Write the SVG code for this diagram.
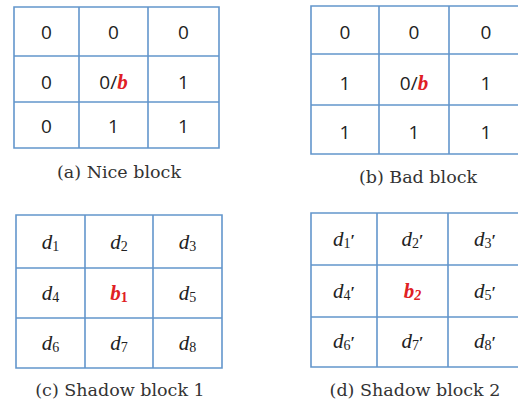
<svg xmlns="http://www.w3.org/2000/svg" width="518" height="405" viewBox="0 0 518 405">
  <style>
    .grid { fill: none; stroke: #6396cc; stroke-width: 1.6; }
    .num { font-family: "Open Sans", "Liberation Sans", sans-serif; font-size: 19px; fill: #222; text-anchor: middle; }
    .var { font-family: "Liberation Serif", "DejaVu Serif", serif; font-style: italic; font-size: 21px; fill: #222; text-anchor: middle; }
    .sub { font-style: normal; font-size: 14px; }
    .pr { font-style: normal; font-weight: bold; font-size: 16px; }
    .red { fill: #e02024; font-weight: bold; font-style: italic; font-family: "Liberation Serif", "DejaVu Serif", serif; font-size: 21px; }
    .cap { font-family: "DejaVu Serif", "Liberation Serif", serif; font-size: 17.5px; fill: #333; text-anchor: middle; }
  </style>
  <rect width="518" height="405" fill="#fff"/>

  <!-- (a) Nice block -->
  <g id="nice-block">
    <path class="grid" d="M14 7H219V148H14Z M79 7V148 M148 7V148 M14 56H219 M14 102H219"/>
    <text class="num" x="46.5" y="39">0</text>
    <text class="num" x="113.5" y="39">0</text>
    <text class="num" x="183.5" y="39">0</text>
    <text class="num" x="46.5" y="89">0</text>
    <text class="num" x="113.5" y="89">0/<tspan class="red">b</tspan></text>
    <text class="num" x="183.5" y="89">1</text>
    <text class="num" x="46.5" y="133">0</text>
    <text class="num" x="113.5" y="133">1</text>
    <text class="num" x="183.5" y="133">1</text>
    <text class="cap" x="119" y="178">(a) Nice block</text>
  </g>

  <!-- (b) Bad block -->
  <g id="bad-block">
    <path class="grid" d="M311 6H530V154H311Z M379 6V154 M449 6V154 M311 54H530 M311 105H530"/>
    <text class="num" x="345" y="39">0</text>
    <text class="num" x="414" y="39">0</text>
    <text class="num" x="486" y="39">0</text>
    <text class="num" x="345" y="90">1</text>
    <text class="num" x="414" y="90">0/<tspan class="red">b</tspan></text>
    <text class="num" x="486" y="90">1</text>
    <text class="num" x="345" y="139">1</text>
    <text class="num" x="414" y="139">1</text>
    <text class="num" x="486" y="139">1</text>
    <text class="cap" x="418" y="183">(b) Bad block</text>
  </g>

  <!-- (c) Shadow block 1 -->
  <g id="shadow-block-1">
    <path class="grid" d="M16 215H222V368H16Z M85 215V368 M153 215V368 M16 268H222 M16 318H222"/>
    <text class="var" x="50.5" y="249">d<tspan class="sub" dy="2">1</tspan></text>
    <text class="var" x="119" y="249">d<tspan class="sub" dy="2">2</tspan></text>
    <text class="var" x="187.5" y="249">d<tspan class="sub" dy="2">3</tspan></text>
    <text class="var" x="50.5" y="300">d<tspan class="sub" dy="2">4</tspan></text>
    <text class="var red" x="119" y="300">b<tspan class="sub" dy="2">1</tspan></text>
    <text class="var" x="187.5" y="300">d<tspan class="sub" dy="2">5</tspan></text>
    <text class="var" x="50.5" y="350">d<tspan class="sub" dy="2">6</tspan></text>
    <text class="var" x="119" y="350">d<tspan class="sub" dy="2">7</tspan></text>
    <text class="var" x="187.5" y="350">d<tspan class="sub" dy="2">8</tspan></text>
    <text class="cap" x="120" y="396">(c) Shadow block 1</text>
  </g>

  <!-- (d) Shadow block 2 -->
  <g id="shadow-block-2">
    <path class="grid" d="M311 213H530V367H311Z M377 213V367 M448 213V367 M311 265H530 M311 317H530"/>
    <text class="var" x="344" y="246">d<tspan class="sub" dy="2">1</tspan><tspan class="pr" dy="-2">′</tspan></text>
    <text class="var" x="412.5" y="246">d<tspan class="sub" dy="2">2</tspan><tspan class="pr" dy="-2">′</tspan></text>
    <text class="var" x="485" y="246">d<tspan class="sub" dy="2">3</tspan><tspan class="pr" dy="-2">′</tspan></text>
    <text class="var" x="344" y="298">d<tspan class="sub" dy="2">4</tspan><tspan class="pr" dy="-2">′</tspan></text>
    <text class="var red" x="412.5" y="298">b<tspan class="sub" style="font-style:italic" dy="2">2</tspan></text>
    <text class="var" x="485" y="298">d<tspan class="sub" dy="2">5</tspan><tspan class="pr" dy="-2">′</tspan></text>
    <text class="var" x="344" y="348">d<tspan class="sub" dy="2">6</tspan><tspan class="pr" dy="-2">′</tspan></text>
    <text class="var" x="412.5" y="348">d<tspan class="sub" dy="2">7</tspan><tspan class="pr" dy="-2">′</tspan></text>
    <text class="var" x="485" y="348">d<tspan class="sub" dy="2">8</tspan><tspan class="pr" dy="-2">′</tspan></text>
    <text class="cap" x="415" y="396">(d) Shadow block 2</text>
  </g>
</svg>
